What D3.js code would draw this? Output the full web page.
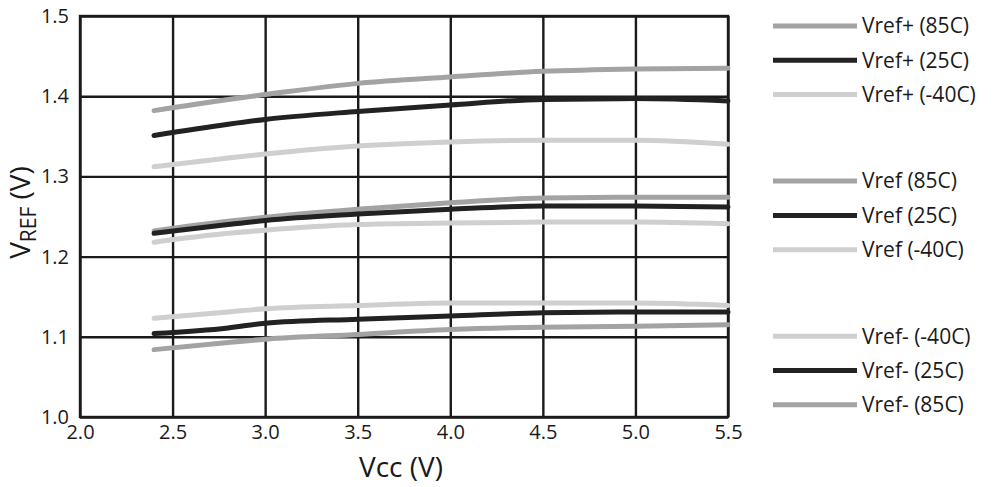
<!DOCTYPE html>
<html>
<head>
<meta charset="utf-8">
<script src="https://cdn.jsdelivr.net/npm/d3@7"></script>
<style>
    body { margin: 0; background: #fff; }
    text { font-family: "Open Sans", "Noto Sans", sans-serif; fill: #1a1a1a; }
</style>
</head>
<body>
<svg id="chart" width="993" height="487"></svg>
<script>
// supply voltage points
const vcc = [2.4, 2.8, 3.0, 3.5, 4.0, 4.5, 5.0, 5.5]

const vrefPlus85 = [1.382, 1.396, 1.402, 1.416, 1.424, 1.431, 1.434, 1.435]
const vrefPlus25 = [1.351, 1.365, 1.371, 1.381, 1.389, 1.396, 1.397, 1.394]
const vrefPlusM40 = [1.312, 1.323, 1.328, 1.338, 1.343, 1.345, 1.345, 1.340]

const vref85 = [1.232, 1.244, 1.249, 1.259, 1.267, 1.273, 1.274, 1.274]
const vref25 = [1.229, 1.240, 1.245, 1.253, 1.259, 1.263, 1.263, 1.262]
const vrefM40 = [1.218, 1.229, 1.233, 1.240, 1.242, 1.243, 1.243, 1.241]

const vrefMinusM40 = [1.123, 1.131, 1.135, 1.139, 1.142, 1.142, 1.142, 1.139]
const vrefMinus25 = [1.104, 1.111, 1.117, 1.122, 1.126, 1.130, 1.131, 1.131]
const vrefMinus85 = [1.084, 1.093, 1.097, 1.103, 1.109, 1.112, 1.113, 1.115]

const xTicks = [2.0, 2.5, 3.0, 3.5, 4.0, 4.5, 5.0, 5.5]
const yTicks = [1.0, 1.1, 1.2, 1.3, 1.4, 1.5]

// legend order as in the picture, with a gap between the groups
const legendGroups = [
    [["Vref+ (85C)", vrefPlus85, "85"], ["Vref+ (25C)", vrefPlus25, "25"], ["Vref+ (-40C)", vrefPlusM40, "-40"]],
    [["Vref (85C)", vref85, "85"], ["Vref (25C)", vref25, "25"], ["Vref (-40C)", vrefM40, "-40"]],
    [["Vref- (-40C)", vrefMinusM40, "-40"], ["Vref- (25C)", vrefMinus25, "25"], ["Vref- (85C)", vrefMinus85, "85"]]
]

const colors = { "85": "#a3a3a3", "25": "#222222", "-40": "#cfcfcf" }
const drawOrder = { "-40": 0, "85": 1, "25": 2 }

const svg = d3.select("#chart")
const margins = { left: 80, top: 16, right: 265, bottom: 70 }
const width = 993 - margins.left - margins.right
const height = 487 - margins.top - margins.bottom

const x = d3.scaleLinear().domain([2.0, 5.5]).range([0, width])
const y = d3.scaleLinear().domain([1.0, 1.5]).range([height, 0])

const g = svg.append("g").attr("transform", `translate(${margins.left},${margins.top})`)

// grid
g.append("g")
    .attr("transform", `translate(0,${height})`)
    .call(d3.axisBottom(x).tickValues(xTicks).tickSize(-height).tickFormat(d3.format(".1f")).tickPadding(6))
    .call(a => a.select(".domain").remove())
    .call(a => a.selectAll("line").attr("stroke", "#1a1a1a").attr("stroke-width", 2.4))
    .call(a => a.selectAll("text").attr("font-size", 20).attr("dy", "0.8em"))

g.append("g")
    .call(d3.axisLeft(y).tickValues(yTicks).tickSize(-width).tickFormat(d3.format(".1f")).tickPadding(11))
    .call(a => a.select(".domain").remove())
    .call(a => a.selectAll("line").attr("stroke", "#1a1a1a").attr("stroke-width", 2.4))
    .call(a => a.selectAll("text").attr("font-size", 20))

g.append("rect")
    .attr("width", width).attr("height", height)
    .attr("fill", "none").attr("stroke", "#1a1a1a").attr("stroke-width", 2.4)

// curves
const line = d3.line()
    .x((d, i) => x(vcc[i]))
    .y(d => y(d))
    .curve(d3.curveMonotoneX)

const series = legendGroups.flat().slice().sort((a, b) => drawOrder[a[2]] - drawOrder[b[2]])

g.selectAll("path.curve")
    .data(series)
    .enter()
    .append("path")
    .attr("class", "curve")
    .attr("d", d => line(d[1]))
    .attr("fill", "none")
    .attr("stroke", d => colors[d[2]])
    .attr("stroke-width", 5)
    .attr("stroke-linecap", "round")

// axis titles
svg.append("text")
    .attr("x", margins.left + width / 2 - 3)
    .attr("y", 477)
    .attr("text-anchor", "middle")
    .attr("font-size", 28)
    .text("Vcc (V)")

const yTitle = svg.append("text")
    .attr("transform", `translate(30,${margins.top + height / 2 - 4}) rotate(-90)`)
    .attr("text-anchor", "middle")
    .attr("font-size", 28)
yTitle.append("tspan").text("V")
yTitle.append("tspan").attr("font-size", 21).attr("dy", 6).text("REF")
yTitle.append("tspan").attr("dy", -6).text(" (V)")

// legend
const legend = svg.append("g").attr("transform", "translate(773,26)")
const rowGap = 34.3, groupGap = 86.5

legendGroups.forEach((group, gi) => {
    group.forEach((item, ri) => {
        const ty = gi * (2 * rowGap + groupGap) + ri * rowGap
        const row = legend.append("g").attr("transform", `translate(0,${ty})`)
        row.append("line")
            .attr("x1", 0).attr("x2", 84)
            .attr("stroke", colors[item[2]])
            .attr("stroke-width", 5)
        row.append("text")
            .attr("x", 89)
            .attr("dy", "0.35em")
            .attr("font-size", 21)
            .text(item[0])
    })
})
</script>
</body>
</html>
